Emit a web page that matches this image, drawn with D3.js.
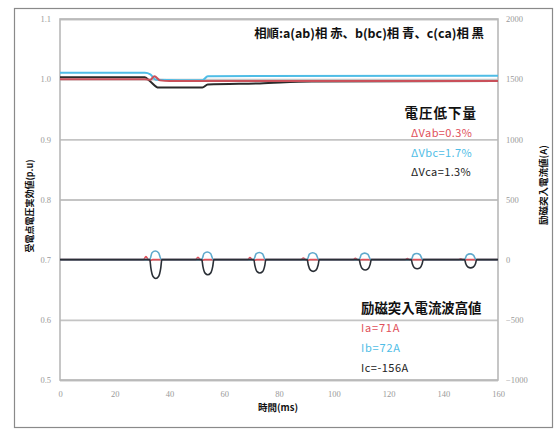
<!DOCTYPE html>
<html>
<head>
<meta charset="utf-8">
<script src="https://cdn.jsdelivr.net/npm/d3@7"></script>
<style>
  body { margin: 0; background: #fff; }
  svg { display: block; }
</style>
</head>
<body>
<svg id="chart" width="557" height="430"></svg>
<script>
// data
const xTicks = [0, 20, 40, 60, 80, 100, 120, 140, 160];
const yLeftTicks = [0.5, 0.6, 0.7, 0.8, 0.9, 1.0, 1.1];
const yRightTicks = [-1000, -500, 0, 500, 1000, 1500, 2000];

// voltage (p.u), [time ms, value]
const vab = [[0, 1.000], [31, 1.000], [33, 0.999], [34.5, 1.005], [36.5, 0.998], [40, 0.997], [160, 0.997]];
const vbc = [[0, 1.0105], [31, 1.0105], [33, 1.008], [35, 0.999], [52, 0.998], [54, 1.005], [160, 1.0055]];
const vca = [[0, 1.003], [31, 1.003], [33, 0.996], [36, 0.986], [52, 0.986], [54, 0.991], [73, 0.993], [92, 0.996], [160, 0.997]];

// inrush current (A), [time ms, value]
const ia = [[0, 0],
  [30.5, 0], [31.4, 25], [32.2, 0], [33, -8], [33.8, 0],
  [49.5, 0], [50.4, 20], [51.2, 0], [52, -6], [52.8, 0],
  [68.5, 0], [69.4, 17], [70.2, 0], [71, -5], [71.8, 0],
  [88, 0], [88.9, 14], [89.7, 0], [90.5, -4], [91.3, 0],
  [107, 0], [107.9, 11], [108.7, 0], [109.5, -3], [110.3, 0],
  [126, 0], [126.9, 9], [127.7, 0],
  [145.5, 0], [146.4, 7], [147.2, 0],
  [160, 0]];
const ib = [[0, 0],
  [32.8, 0], [33.6, 58], [34.8, 72], [36, 58], [37, 0],
  [51.8, 0], [52.6, 51], [53.8, 64], [55, 51], [56, 0],
  [70.8, 0], [71.6, 48], [72.8, 60], [74, 48], [75, 0],
  [90.3, 0], [91.1, 46], [92.3, 57], [93.5, 46], [94.5, 0],
  [109.3, 0], [110.1, 43], [111.3, 54], [112.5, 43], [113.5, 0],
  [128.3, 0], [129.1, 41], [130.3, 51], [131.5, 41], [132.5, 0],
  [147.8, 0], [148.6, 38], [149.8, 48], [151, 38], [152, 0],
  [160, 0]];
const ic = [[0, 0],
  [32.8, 0], [33.2, -70], [34, -140], [35, -156], [36, -140], [36.8, -70], [37.2, 0],
  [51.8, 0], [52.2, -56], [53, -112], [54, -125], [55, -112], [55.8, -56], [56.2, 0],
  [70.8, 0], [71.2, -50], [72, -100], [73, -111], [74, -100], [74.8, -50], [75.2, 0],
  [90.3, 0], [90.7, -44], [91.5, -87], [92.5, -97], [93.5, -87], [94.3, -44], [94.7, 0],
  [109.3, 0], [109.7, -39], [110.5, -77], [111.5, -86], [112.5, -77], [113.3, -39], [113.7, 0],
  [128.3, 0], [128.7, -34], [129.5, -68], [130.5, -76], [131.5, -68], [132.3, -34], [132.7, 0],
  [147.8, 0], [148.2, -31], [149, -61], [150, -68], [151, -61], [151.8, -31], [152.2, 0],
  [160, 0]];

const svg = d3.select("#chart");
const cjk = "'Noto Sans CJK JP', 'Noto Sans', sans-serif";
const red = "#e0505a", blue = "#4fbde6";

// outer frame
svg.append("rect")
  .attr("x", 14.5).attr("y", 8.5)
  .attr("width", 538).attr("height", 419)
  .attr("fill", "none").attr("stroke", "#8a8a8a").attr("stroke-width", 1.2);

const x = d3.scaleLinear().domain([0, 160]).range([60, 498]);
const yL = d3.scaleLinear().domain([0.5, 1.1]).range([380, 19]);
const yR = d3.scaleLinear().domain([-1000, 2000]).range([380, 19]);

// grid lines
svg.append("g")
  .attr("transform", "translate(60,0)")
  .call(d3.axisLeft(yL).tickValues(yLeftTicks).tickSize(-438).tickFormat(""))
  .call(g => g.select(".domain").remove())
  .call(g => g.selectAll("line").attr("stroke", "#c4c4c4").attr("stroke-width", 1.8));

// plot borders
svg.append("rect")
  .attr("x", 60).attr("y", 19).attr("width", 438).attr("height", 361)
  .attr("fill", "none").attr("stroke", "#b8b8b8").attr("stroke-width", 1.6);

// axes tick labels
const tickStyle = g => g.selectAll("text")
  .attr("fill", "#9a9a9a")
  .style("font-family", "'Liberation Serif', serif")
  .style("font-size", "8.5px");

svg.append("g")
  .attr("transform", "translate(60,0)")
  .call(d3.axisLeft(yL).tickValues(yLeftTicks).tickSize(0).tickPadding(9).tickFormat(d3.format(".1f")))
  .call(g => g.select(".domain").remove())
  .call(tickStyle);

svg.append("g")
  .attr("transform", "translate(498,0)")
  .call(d3.axisRight(yR).tickValues(yRightTicks).tickSize(0).tickPadding(8).tickFormat(d3.format("d")))
  .call(g => g.select(".domain").remove())
  .call(tickStyle);

svg.append("g")
  .attr("transform", "translate(0,380)")
  .call(d3.axisBottom(x).tickValues(xTicks).tickSize(0).tickPadding(11))
  .call(g => g.select(".domain").remove())
  .call(tickStyle);

// series
const lineL = d3.line().x(d => x(d[0])).y(d => yL(d[1])).curve(d3.curveMonotoneX);
const lineR = d3.line().x(d => x(d[0])).y(d => yR(d[1])).curve(d3.curveMonotoneX);

const currents = [[ia, red], [ib, "#5fa9cc"], [ic, "#2a2f36"]];
currents.forEach(([data, color]) => {
  svg.append("path").datum(data)
    .attr("d", lineR)
    .attr("fill", "none")
    .attr("stroke", color)
    .attr("stroke-width", 1.6);
});

const volts = [[vca, "#2b2b2b"], [vbc, blue], [vab, "#c9505a"]];
volts.forEach(([data, color]) => {
  svg.append("path").datum(data)
    .attr("d", lineL)
    .attr("fill", "none")
    .attr("stroke", color)
    .attr("stroke-width", 2);
});

// annotations
function label(txt, xp, yp, color, size, anchor, weight, spacing) {
  svg.append("text")
    .attr("x", xp).attr("y", yp)
    .attr("text-anchor", anchor || "start")
    .attr("fill", color)
    .style("font-family", cjk)
    .style("font-size", size + "px")
    .style("font-weight", weight || "normal")
    .style("letter-spacing", (spacing || 0) + "px")
    .text(txt);
}

label("相順:a(ab)相 赤、b(bc)相 青、c(ca)相 黒", 484, 38, "#111", 12.4, "end", "bold");
label("電圧低下量", 477, 118, "#111", 13.5, "end", "bold", 1);
label("ΔVab=0.3%", 411, 137, red, 11, "start", "normal", 0.4);
label("ΔVbc=1.7%", 411, 157, blue, 11, "start", "normal", 0.4);
label("ΔVca=1.3%", 411, 176, "#222", 11, "start", "normal", 0.4);
label("励磁突入電流波高値", 361, 313, "#111", 13.4, "start", "bold");
label("Ia=71A", 361, 332, red, 11, "start", "normal", 0.8);
label("Ib=72A", 361, 352, blue, 11, "start", "normal", 0.8);
label("Ic=-156A", 361, 372, "#222", 11, "start", "normal", 0.5);

// axis titles
label("時間(ms)", 278, 411, "#111", 9.5, "middle", "bold");

svg.append("text")
  .attr("transform", "translate(33,206) rotate(-90)")
  .attr("text-anchor", "middle")
  .attr("fill", "#111")
  .style("font-family", cjk)
  .style("font-size", "9px")
  .style("font-weight", "bold")
  .text("受電点電圧実効値(p.u)");

svg.append("text")
  .attr("transform", "translate(547,185) rotate(-90)")
  .attr("text-anchor", "middle")
  .attr("fill", "#111")
  .style("font-family", cjk)
  .style("font-size", "9.5px")
  .style("font-weight", "bold")
  .text("励磁突入電流値(A)");
</script>
</body>
</html>
